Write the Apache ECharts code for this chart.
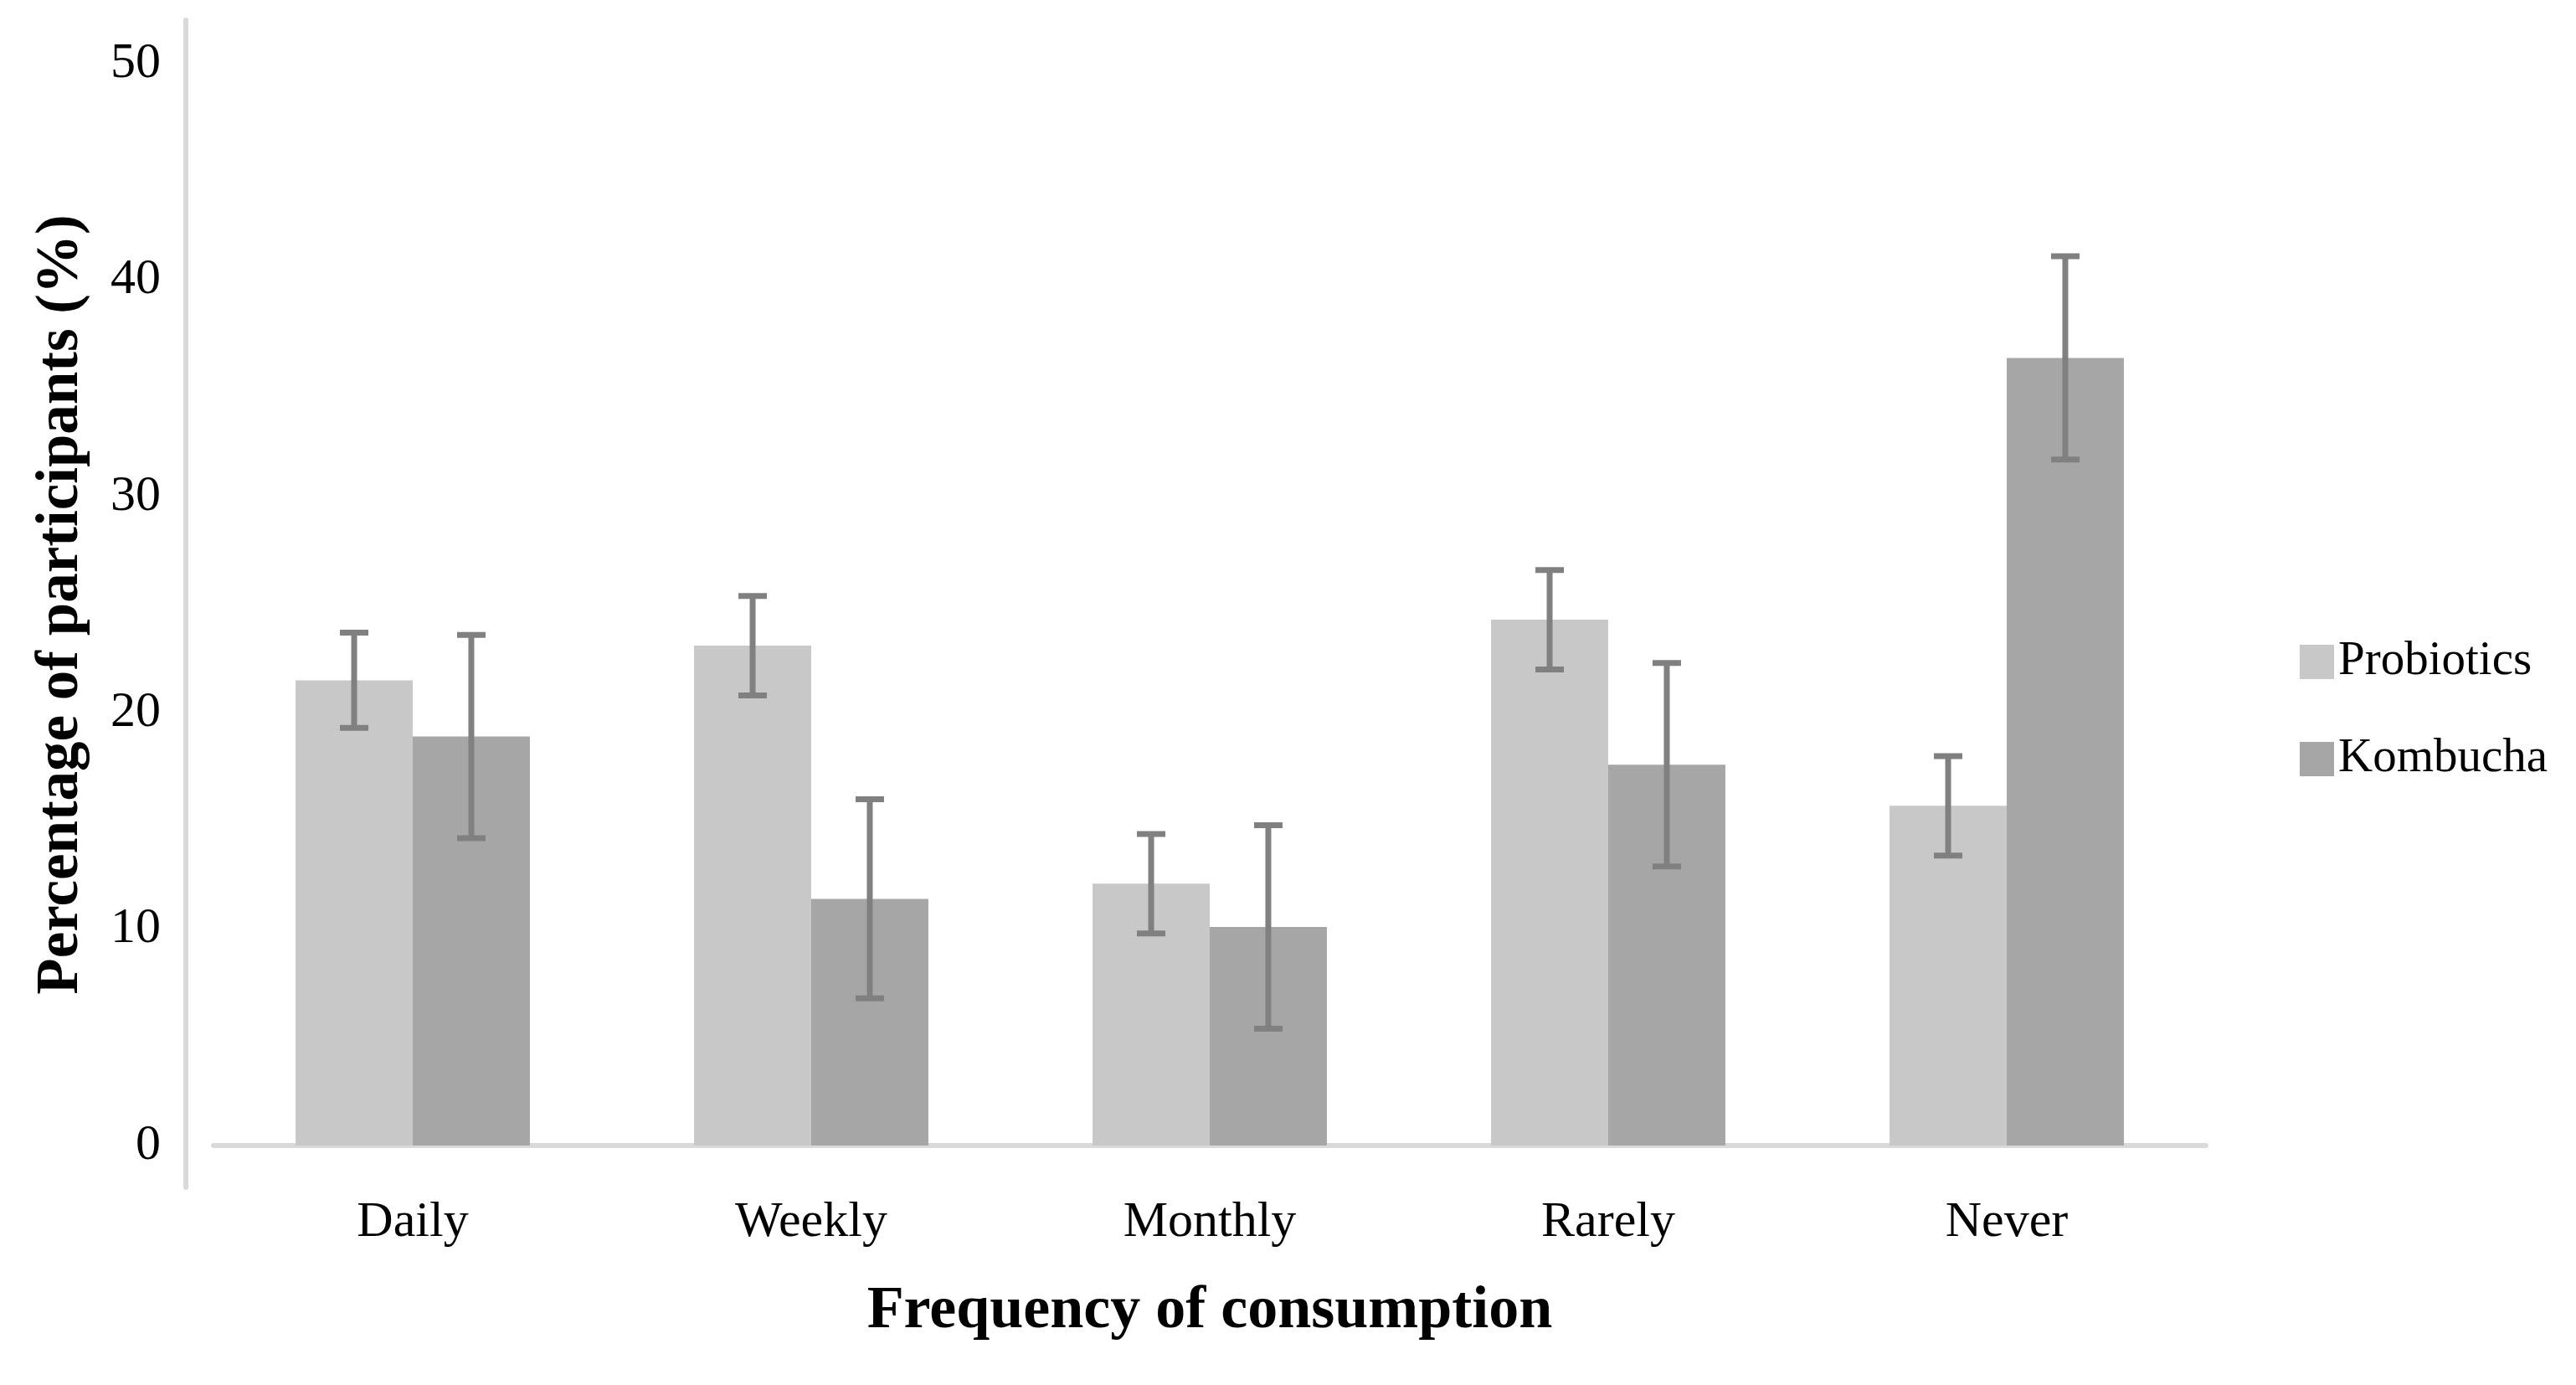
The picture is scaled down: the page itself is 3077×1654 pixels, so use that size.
<!DOCTYPE html>
<html>
<head>
<meta charset="utf-8">
<script src="https://cdn.jsdelivr.net/npm/echarts@6/dist/echarts.min.js"></script>
<style>html,body{margin:0;padding:0;background:#fff}#c{width:3077px;height:1654px}</style>
</head>
<body>
<div id="c"></div>
<script>
const categories = ['Daily', 'Weekly', 'Monthly', 'Rarely', 'Never'];
const probiotics = [21.5, 23.1, 12.1, 24.3, 15.7];
const probioticsErr = [2.2, 2.3, 2.3, 2.3, 2.3];
const kombucha = [18.9, 11.4, 10.1, 17.6, 36.4];
const kombuchaErr = [4.7, 4.6, 4.7, 4.7, 4.7];
const yTicks = {min: 0, max: 50, interval: 10};

const FONT = '"Liberation Serif", "DejaVu Serif", serif';
const BAR_W = 0.294;

function errSeries(vals, errs, side) {
  return {
    type: 'custom',
    xAxisIndex: 0, yAxisIndex: 0,
    z: 10,
    silent: true,
    encode: {x: 0, y: 1},
    data: vals.map((v, i) => [i, v, errs[i]]),
    renderItem: function (params, api) {
      const i = api.value(0), v = api.value(1), e = api.value(2);
      const band = api.size([1, 0])[0];
      const off = side * band * BAR_W / 2;
      const top = api.coord([i, v + e]);
      const bot = api.coord([i, v - e]);
      const x = top[0] + off;
      const hw = 17;
      const st = {stroke: '#808080', lineWidth: 7};
      return {
        type: 'group',
        children: [
          {type: 'line', shape: {x1: x, y1: top[1], x2: x, y2: bot[1]}, style: st},
          {type: 'line', shape: {x1: x - hw, y1: top[1], x2: x + hw, y2: top[1]}, style: st},
          {type: 'line', shape: {x1: x - hw, y1: bot[1], x2: x + hw, y2: bot[1]}, style: st}
        ]
      };
    }
  };
}

const chart = echarts.init(document.getElementById('c'), null, {renderer: 'canvas'});
chart.setOption({
  backgroundColor: '#fff',
  animation: false,
  textStyle: {fontFamily: FONT},
  grid: [
    {left: 255, right: 442, top: 76, bottom: 286},
    {left: 222, width: 10, top: 24, bottom: 236}
  ],
  legend: {
    orient: 'vertical',
    left: 2747, top: 762,
    itemWidth: 41, itemHeight: 41, itemGap: 59,
    padding: 0,
    icon: 'rect',
    textStyle: {fontFamily: FONT, fontSize: 57, color: '#000', padding: [0, 0, 0, 0]},
    data: ['Probiotics', 'Kombucha']
  },
  xAxis: [
    {
      type: 'category', gridIndex: 0, data: categories,
      axisLine: {show: true, lineStyle: {color: '#d9d9d9', width: 6}},
      axisTick: {show: false},
      axisLabel: {fontFamily: FONT, fontSize: 60, color: '#000', margin: 62},
      name: 'Frequency of consumption',
      nameLocation: 'middle', nameGap: 162,
      nameTextStyle: {fontFamily: FONT, fontSize: 72, fontWeight: 'bold', color: '#000'}
    },
    {type: 'value', gridIndex: 1, show: false}
  ],
  yAxis: [
    {
      type: 'value', gridIndex: 0,
      min: yTicks.min, max: yTicks.max, interval: yTicks.interval,
      axisLine: {show: false}, axisTick: {show: false}, splitLine: {show: false},
      axisLabel: {fontFamily: FONT, fontSize: 60, color: '#000', margin: 63},
      name: 'Percentage of participants (%)',
      nameLocation: 'middle', nameGap: 146, nameRotate: 90,
      nameTextStyle: {fontFamily: FONT, fontSize: 71, fontWeight: 'bold', color: '#000'}
    },
    {
      type: 'value', gridIndex: 1, min: 0, max: 1,
      axisLine: {show: true, onZero: false, lineStyle: {color: '#d9d9d9', width: 6}},
      axisTick: {show: false}, axisLabel: {show: false}, splitLine: {show: false}
    }
  ],
  series: [
    {
      name: 'Probiotics', type: 'bar', data: probiotics,
      barWidth: (BAR_W * 100) + '%', barGap: '0%',
      itemStyle: {color: '#c8c8c8'}
    },
    {
      name: 'Kombucha', type: 'bar', data: kombucha,
      barWidth: (BAR_W * 100) + '%', barGap: '0%',
      itemStyle: {color: '#a6a6a6'}
    },
    errSeries(probiotics, probioticsErr, -1),
    errSeries(kombucha, kombuchaErr, 1)
  ]
});
</script>
</body>
</html>
